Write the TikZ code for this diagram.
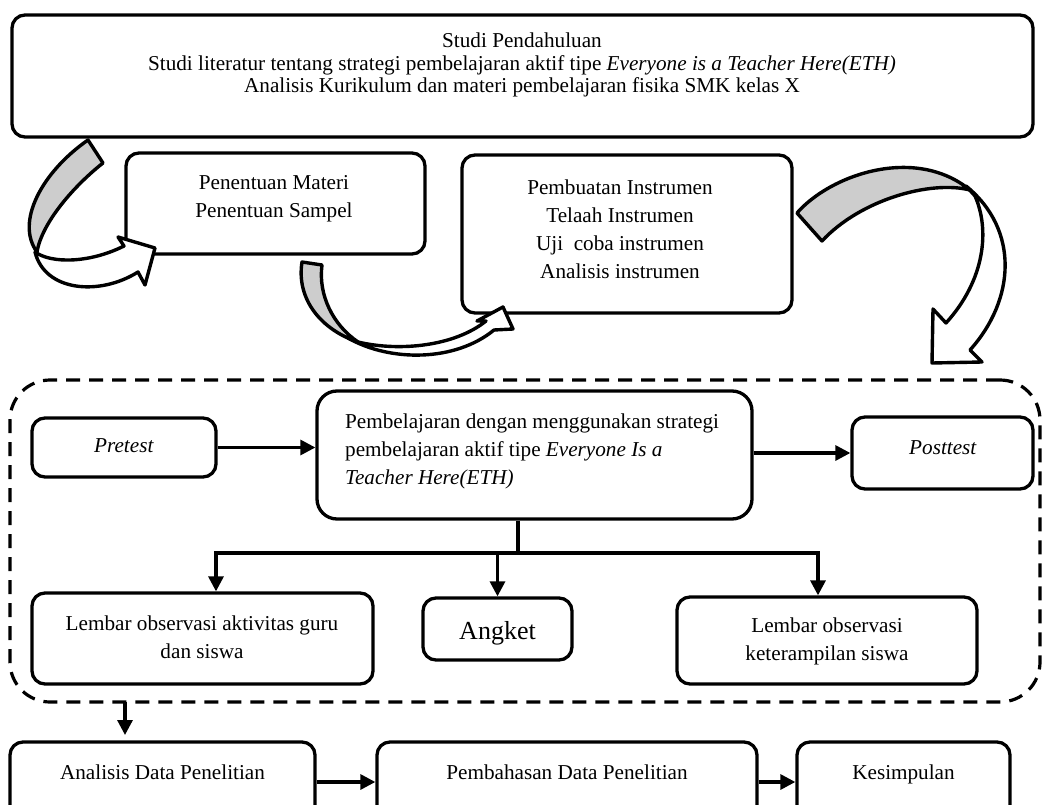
\documentclass[tikz,border=0pt]{standalone}
\usepackage{fontspec}
\setmainfont{Liberation Serif}
\usetikzlibrary{arrows.meta}
\definecolor{bandgray}{RGB}{205,205,205}
\begin{document}
\begin{tikzpicture}[x=1pt,y=-1pt,
  box/.style={draw, line width=3.3pt, rounded corners=13pt, inner sep=0pt},
  txt/.style={font=\fontsize{21.2}{22.8}\selectfont, align=center, inner sep=0pt},
  wtxt/.style={font=\fontsize{21.2}{28}\selectfont, align=center, inner sep=0pt},
  one/.style={font=\fontsize{21.2}{28}\selectfont, inner sep=0pt, anchor=base},
  conn/.style={line width=3.2pt, -{Triangle[length=15pt,width=15pt]}},
  plain/.style={line width=3.2pt},
  dashbox/.style={draw, line width=3.2pt, dash pattern=on 14pt off 9pt, rounded corners=40pt, inner sep=0pt},
  band/.style={line width=3.4pt, line join=round}
]
\useasboundingbox (0,0) rectangle (1044,805);
\clip (0,0) rectangle (1044,805);

% top box
\node[box, minimum width=1021pt, minimum height=122pt] (studi) at (522.5,76) {};
\node[txt] (studit) at (522,65) {Studi Pendahuluan\\Studi literatur tentang strategi pembelajaran aktif tipe \textit{Everyone is a Teacher Here(ETH)}\\Analisis Kurikulum dan materi pembelajaran fisika SMK kelas X};

% second row
\node[box, minimum width=299pt, minimum height=101pt] (pen) at (275.5,203.5) {};
\node[wtxt] (pent) at (274,198.5) {Penentuan Materi\\Penentuan Sampel};
\node[box, minimum width=330pt, minimum height=158pt] (ins) at (627,234) {};
\node[wtxt] (inst) at (620,229.5) {Pembuatan Instrumen\\Telaah Instrumen\\Uji\ \ coba instrumen\\Analisis instrumen};

% dashed group
\node[dashbox, minimum width=1030pt, minimum height=322pt] (grp) at (525,541) {};

% inner boxes
\node[box, minimum width=184pt, minimum height=59pt] (pre) at (124,447.5) {};
\node[one] (pret) at (124,452) {\textit{Pretest}};
\node[box, rounded corners=20pt, minimum width=435pt, minimum height=128pt] (main) at (534.5,455) {};
\node[wtxt, align=left, anchor=west] (maint) at (345,451) {Pembelajaran dengan menggunakan strategi\\pembelajaran aktif tipe \textit{Everyone Is a}\\\textit{Teacher Here(ETH)}};
\node[box, minimum width=181pt, minimum height=72pt] (post) at (942.5,453) {};
\node[one] (postt) at (943,454) {\textit{Posttest}};

\node[box, minimum width=341pt, minimum height=91pt] (loag) at (202.5,638.5) {};
\node[wtxt] (loagt) at (202,637.5) {Lembar observasi aktivitas guru\\dan siswa};
\node[box, minimum width=149pt, minimum height=62pt] (ang) at (497.5,629) {};
\node[one, font=\fontsize{26}{28}\selectfont] (angt) at (497.5,639) {Angket};
\node[box, minimum width=300pt, minimum height=87pt] (loks) at (827,640.5) {};
\node[wtxt] (lokst) at (827,641) {Lembar observasi\\keterampilan siswa};

% bottom row
\node[box, minimum width=305pt, minimum height=80pt] (ana) at (162.5,782) {};
\node[one] (anat) at (162.5,779) {Analisis Data Penelitian};
\node[box, minimum width=380pt, minimum height=80pt] (pem) at (567,782) {};
\node[one] (pemt) at (567,779) {Pembahasan Data Penelitian};
\node[box, minimum width=213pt, minimum height=80pt] (kes) at (903.5,782) {};
\node[one] (kest) at (903.5,779) {Kesimpulan};

% connectors inside group
\draw[conn] (pre.east) -- (pre.east -| main.west);
\draw[conn] (post.west -| main.east) -- (post.west);
\coordinate (bj) at (518,553);
\coordinate (hl) at (216,553);
\coordinate (hr) at (818,553);
\draw[plain] (main.south -| bj) -- (bj);
\draw[plain] ([xshift=-1.6pt]hl) -- ([xshift=1.6pt]hr);
\draw[conn] (hl) -- (hl |- loag.north);
\draw[conn] (ang.north |- bj) -- (ang.north);
\draw[conn] (hr) -- (hr |- loks.north);

% group to bottom row
\coordinate (gd) at (125,702);
\coordinate (gdt) at (125,735);
\draw[conn] (gd) -- (gdt);
\draw[conn] (ana.east) -- (pem.west);
\draw[conn] (pem.east) -- (kes.west);

% curved arrow 1
\draw[band, fill=bandgray] (88,140) -- (103,163) .. controls (75,185) and (42,222) .. (37,252)
  .. controls (15,222) and (42,172) .. (88,140) -- cycle;
\draw[band, fill=white] (35,252) .. controls (45,292) and (100,296) .. (138,272) -- (145,285) -- (155,248)
  -- (118,237) -- (124,246) .. controls (90,263) and (52,264) .. (35,252) -- cycle;

% curved arrow 2
\draw[band, fill=bandgray] (302,262) -- (322,265) .. controls (318,295) and (333,325) .. (358,342)
  .. controls (322,330) and (296,300) .. (302,262) -- cycle;
\draw[band, fill=white] (348,338) .. controls (390,362) and (455,362) .. (494,330) -- (513,329) -- (503,307)
  -- (477,321) -- (486,321) .. controls (455,346) and (400,352) .. (358,342) -- cycle;

% curved arrow 3
\draw[band, fill=bandgray] (797,213) .. controls (830,175) and (915,145) .. (970,190)
  .. controls (930,180) and (860,200) .. (822,241) -- cycle;
\draw[band, fill=white] (966,186) .. controls (1020,230) and (1015,300) .. (970,350) -- (982,362) -- (932,363)
  -- (933,309) -- (946,323) .. controls (985,280) and (990,230) .. (975,196) -- cycle;
\end{tikzpicture}
\end{document}
